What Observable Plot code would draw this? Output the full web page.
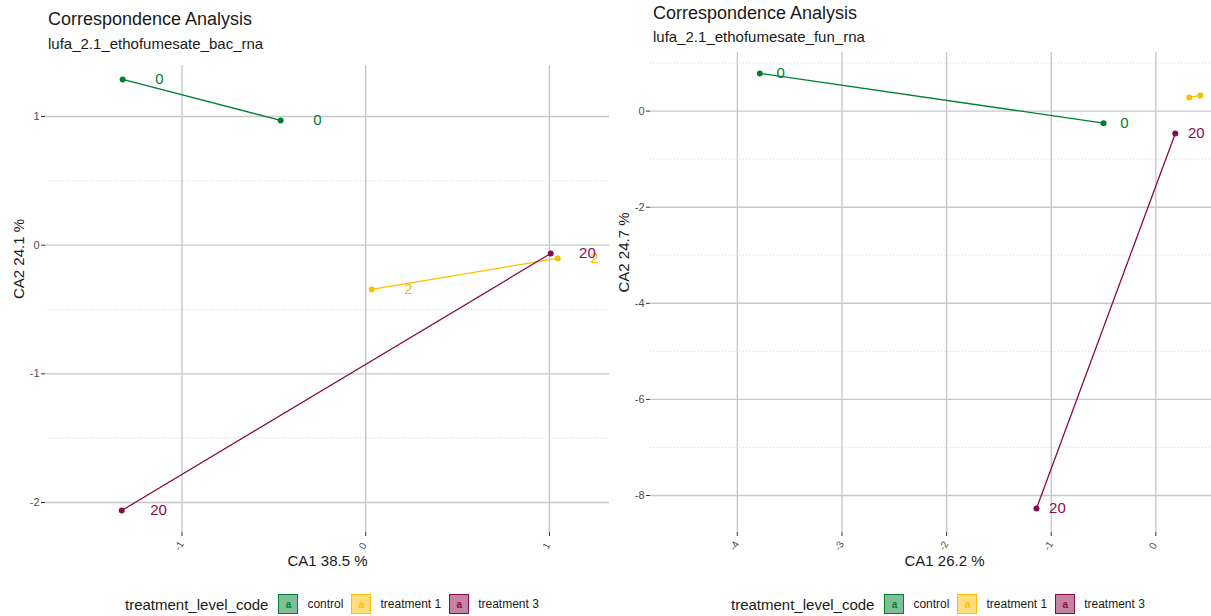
<!DOCTYPE html>
<html>
<head>
<meta charset="utf-8">
<script src="https://cdn.jsdelivr.net/npm/d3@7"></script>
<script src="https://cdn.jsdelivr.net/npm/@observablehq/plot@0.6"></script>
<style>
  html, body { margin: 0; padding: 0; background: #fff; }
  body { width: 1211px; height: 616px; overflow: hidden; position: relative; font-family: "Liberation Sans", Arial, sans-serif; }
  .abs { position: absolute; }
  .title { font-size: 18px; color: #1a1a1a; white-space: nowrap; }
  .subtitle { font-size: 15px; color: #1a1a1a; white-space: nowrap; }
  .legend { display: flex; align-items: center; white-space: nowrap; }
  .legend .lt { font-size: 15px; color: #1a1a1a; margin-right: 10px; }
  .legend .key { width: 18px; height: 18px; border: 1.5px solid; display: flex; align-items: center; justify-content: center; font-size: 10px; font-weight: bold; margin-right: 9px; }
  .legend .kl { font-size: 12px; color: #1a1a1a; margin-right: 8px; }
</style>
</head>
<body>
<script>
// ---- data ----
const groups = ["control", "treatment 1", "treatment 3"];
const groupColors = ["#00802f", "#fdbd00", "#8a0b4c"];
const groupFills = ["rgba(0,128,47,0.5)", "rgba(253,189,0,0.5)", "rgba(138,11,76,0.5)"];

const pointGroup = ["control", "control", "treatment 1", "treatment 1", "treatment 3", "treatment 3"];
const pointLabel = ["0", "0", "2", "2", "20", "20"];

// panel 1: lufa_2.1_ethofumesate_bac_rna
const bacCA1 = [-1.323, -0.463, 0.033, 1.045, 1.007, -1.328];
const bacCA2 = [1.288, 0.969, -0.344, -0.103, -0.065, -2.062];
const bacXTicks = [-1, 0, 1];
const bacYTicks = [-2, -1, 0, 1];
const bacYMinor = [-1.5, -0.5, 0.5];

// panel 2: lufa_2.1_ethofumesate_fun_rna
const funCA1 = [-3.785, -0.50, 0.32, 0.425, 0.186, -1.141];
const funCA2 = [0.785, -0.25, 0.285, 0.327, -0.464, -8.27];
const funXTicks = [-4, -3, -2, -1, 0];
const funYTicks = [-8, -6, -4, -2, 0];
const funYMinor = [-7, -5, -3, -1, 1];
const funHiddenLabels = ["treatment 1"];

const labelNudge = 0.2;
const fmt = d => String(d);

function rows(xs, ys, hidden = []) {
  return xs.map((x, i) => ({x, y: ys[i], group: pointGroup[i], label: pointLabel[i], showLabel: !hidden.includes(pointGroup[i])}));
}

function panel(cfg) {
  const data = rows(cfg.xs, cfg.ys, cfg.hidden || []);
  return Plot.plot({
    width: cfg.width, height: cfg.height,
    marginTop: cfg.mt, marginBottom: cfg.mb, marginLeft: cfg.ml, marginRight: cfg.mr,
    style: {fontFamily: "'Liberation Sans', Arial, sans-serif", background: "transparent", overflow: "visible"},
    x: {domain: cfg.xDomain, label: null},
    y: {domain: cfg.yDomain, label: null},
    color: {domain: groups, range: groupColors},
    marks: [
      Plot.gridY(cfg.yMinor, {stroke: "#dcdcdc", strokeOpacity: 1, strokeWidth: 1, strokeDasharray: "1,2"}),
      Plot.gridY(cfg.yTicks, {stroke: "#c8c8c8", strokeOpacity: 1, strokeWidth: 1.4}),
      Plot.gridX(cfg.xTicks, {stroke: "#c8c8c8", strokeOpacity: 1, strokeWidth: 1.4}),
      Plot.axisY(cfg.yTicks, {tickSize: 4, tickPadding: 2, fontSize: 11, fill: "#4d4d4d", stroke: "#333", tickFormat: fmt, label: null}),
      Plot.axisX(cfg.xTicks, {tickSize: 4, stroke: "#333", tickFormat: () => "", label: null}),
      Plot.text(cfg.xTicks, {x: d => d, frameAnchor: "bottom", dy: 15, rotate: -60, fontSize: 10, fill: "#4d4d4d", text: fmt}),
      Plot.text([cfg.xLabel], {frameAnchor: "bottom", dy: 33, fontSize: 15, fill: "#1a1a1a", text: d => d}),
      Plot.text([cfg.yLabel], {frameAnchor: "left", dx: -26, rotate: -90, fontSize: 15, fill: "#1a1a1a", text: d => d}),
      Plot.line(data, {x: "x", y: "y", z: "group", stroke: "group", strokeWidth: 1.3}),
      Plot.dot(data, {x: "x", y: "y", fill: "group", r: 3}),
      Plot.text(data.filter(d => d.showLabel), {x: d => d.x + labelNudge, y: "y", text: "label", fill: "group", fontSize: 15})
    ]
  });
}

function place(el, left, top) {
  el.style.position = "absolute";
  el.style.left = left + "px";
  el.style.top = top + "px";
  document.body.appendChild(el);
}

function addText(cls, text, left, top) {
  const d = document.createElement("div");
  d.className = "abs " + cls;
  d.textContent = text;
  d.style.left = left + "px";
  d.style.top = top + "px";
  document.body.appendChild(d);
}

function addLegend(left, top) {
  const lg = document.createElement("div");
  lg.className = "abs legend";
  lg.style.left = left + "px";
  lg.style.top = top + "px";
  const t = document.createElement("span");
  t.className = "lt";
  t.textContent = "treatment_level_code";
  lg.appendChild(t);
  groups.forEach((g, i) => {
    const k = document.createElement("span");
    k.className = "key";
    k.style.borderColor = groupColors[i];
    k.style.background = groupFills[i];
    k.style.color = groupColors[i];
    k.textContent = "a";
    lg.appendChild(k);
    const l = document.createElement("span");
    l.className = "kl";
    l.textContent = g;
    lg.appendChild(l);
  });
  document.body.appendChild(lg);
}

// left panel
addText("title", "Correspondence Analysis", 48, 9);
addText("subtitle", "lufa_2.1_ethofumesate_bac_rna", 48, 35);
place(panel({
  xs: bacCA1, ys: bacCA2, width: 610, height: 520, mt: 10, mb: 43, ml: 45, mr: 1,
  xDomain: [-1.743, 1.327], yDomain: [-2.233, 1.396],
  xTicks: bacXTicks, yTicks: bacYTicks, yMinor: bacYMinor,
  xLabel: "CA1 38.5 %", yLabel: "CA2 24.1 %"
}), 0, 55);
addLegend(125, 594);

// right panel
addText("title", "Correspondence Analysis", 653, 3);
addText("subtitle", "lufa_2.1_ethofumesate_fun_rna", 653, 28);
place(panel({
  xs: funCA1, ys: funCA2, width: 633, height: 530, mt: 7, mb: 43, ml: 45, mr: 0,
  xDomain: [-4.83, 0.79], yDomain: [-8.77, 1.22],
  xTicks: funXTicks, yTicks: funYTicks, yMinor: funYMinor, hidden: funHiddenLabels,
  xLabel: "CA1 26.2 %", yLabel: "CA2 24.7 %"
}), 605, 45);
addLegend(731, 594);
</script>
</body>
</html>
